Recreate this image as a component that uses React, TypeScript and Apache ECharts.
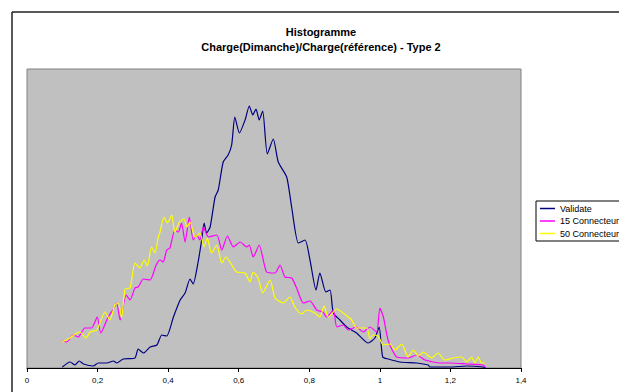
import React, { useEffect, useRef } from 'react';
import * as echarts from 'echarts';

const titleLines = ['Histogramme', 'Charge(Dimanche)/Charge(référence) - Type 2'];
const seriesNames = ['Validate', '15 Connecteur', '50 Connecteur'];
const seriesColors = ['#000080', '#FF00FF', '#FFFF00'];
const xTicks = { min: 0, max: 1.4, step: 0.2 };

const validate: [number, number][] = [
  [0.100, 1], [0.122, 6], [0.136, 3], [0.148, 7], [0.160, 4], [0.188, 2], [0.202, 5], [0.226, 5], [0.245, 7], [0.254, 5],
  [0.273, 9], [0.306, 10], [0.315, 19], [0.330, 15], [0.349, 21], [0.368, 23], [0.382, 33], [0.396, 32], [0.415, 51], [0.434, 68],
  [0.448, 75], [0.462, 89], [0.471, 84], [0.485, 106], [0.495, 128], [0.502, 145], [0.509, 135], [0.519, 141], [0.533, 171], [0.542, 178],
  [0.556, 206], [0.570, 213], [0.580, 223], [0.589, 251], [0.602, 235], [0.618, 248], [0.630, 262], [0.640, 253], [0.649, 259], [0.658, 248],
  [0.668, 257], [0.681, 214], [0.698, 229], [0.712, 206], [0.736, 191], [0.750, 161], [0.769, 125], [0.788, 128], [0.802, 108], [0.819, 78],
  [0.830, 95], [0.847, 76], [0.859, 78], [0.868, 55], [0.887, 48], [0.906, 41], [0.934, 35], [0.967, 25], [0.986, 30], [0.998, 41],
  [1.008, 11], [1.024, 9], [1.057, 6], [1.104, 5], [1.137, 3], [1.142, 1], [1.199, 1], [1.246, 2], [1.293, 1], [1.298, 0],
];

const connect15: [number, number][] = [
  [0.100, 27], [0.112, 26], [0.131, 33], [0.145, 31], [0.164, 40], [0.183, 40], [0.199, 51], [0.209, 35], [0.230, 51], [0.243, 58],
  [0.254, 65], [0.264, 48], [0.281, 73], [0.292, 68], [0.306, 80], [0.315, 81], [0.330, 89], [0.349, 88], [0.366, 103], [0.377, 108],
  [0.386, 106], [0.396, 118], [0.405, 120], [0.419, 138], [0.429, 136], [0.438, 145], [0.448, 126], [0.460, 151], [0.471, 128], [0.481, 133],
  [0.490, 128], [0.500, 141], [0.514, 131], [0.538, 133], [0.552, 118], [0.568, 132], [0.585, 121], [0.604, 126], [0.623, 121], [0.630, 123],
  [0.641, 111], [0.658, 123], [0.679, 96], [0.703, 95], [0.717, 103], [0.731, 91], [0.750, 90], [0.764, 80], [0.783, 65], [0.802, 67],
  [0.821, 58], [0.838, 56], [0.849, 51], [0.868, 58], [0.878, 41], [0.896, 43], [0.910, 38], [0.934, 41], [0.953, 36], [0.972, 41],
  [0.991, 36], [1.000, 60], [1.010, 51], [1.024, 27], [1.048, 11], [1.080, 10], [1.104, 13], [1.128, 8], [1.151, 6], [1.170, 5],
  [1.199, 5], [1.246, 4], [1.293, 3], [1.301, 0],
];

const connect50: [number, number][] = [
  [0.100, 26], [0.122, 30], [0.141, 35], [0.150, 36], [0.167, 30], [0.179, 36], [0.198, 38], [0.221, 56], [0.235, 48], [0.249, 63],
  [0.259, 65], [0.268, 50], [0.278, 79], [0.292, 80], [0.306, 105], [0.320, 100], [0.332, 108], [0.341, 102], [0.353, 121], [0.363, 115],
  [0.372, 131], [0.377, 136], [0.388, 151], [0.398, 145], [0.410, 153], [0.419, 136], [0.432, 146], [0.445, 149], [0.453, 141], [0.462, 146],
  [0.476, 131], [0.490, 135], [0.502, 121], [0.511, 130], [0.523, 115], [0.538, 123], [0.552, 105], [0.564, 111], [0.575, 106], [0.594, 96],
  [0.618, 95], [0.632, 86], [0.641, 96], [0.655, 90], [0.668, 75], [0.689, 88], [0.703, 70], [0.726, 65], [0.745, 71], [0.759, 61],
  [0.778, 54], [0.793, 58], [0.816, 55], [0.830, 51], [0.842, 62], [0.854, 51], [0.878, 59], [0.896, 55], [0.920, 48], [0.934, 40],
  [0.963, 40], [0.972, 29], [0.981, 33], [0.995, 32], [1.010, 23], [1.029, 24], [1.043, 18], [1.062, 24], [1.080, 11], [1.095, 18],
  [1.109, 12], [1.123, 16], [1.147, 10], [1.165, 15], [1.184, 8], [1.208, 10], [1.232, 11], [1.246, 6], [1.260, 11], [1.269, 5],
  [1.279, 11], [1.288, 5], [1.298, 5],
];

const seriesData = [validate, connect15, connect50];

export default function App() {
  const ref = useRef<HTMLDivElement>(null);
  useEffect(() => {
    if (!ref.current) return;
    const chart = echarts.init(ref.current, null, { renderer: 'svg' });
    const font = 'Liberation Sans, Arial, sans-serif';
    chart.setOption({
      animation: false,
      backgroundColor: '#ffffff',
      grid: {
        left: 27, top: 69, width: 494, height: 299,
        show: true, backgroundColor: '#C0C0C0', borderColor: '#808080', borderWidth: 1,
      },
      xAxis: {
        type: 'value', min: xTicks.min, max: xTicks.max, interval: xTicks.step,
        axisLine: { onZero: false, lineStyle: { color: '#000', width: 1 } },
        axisTick: { show: true, length: 4, lineStyle: { color: '#000', width: 1 } },
        splitLine: { show: false },
        axisLabel: {
          color: '#000', fontSize: 8, fontFamily: font, margin: 8,
          formatter: (v: number) => String(Math.round(v * 10) / 10).replace('.', ','),
        },
      },
      yAxis: { type: 'value', min: 0, max: 299, show: false, splitLine: { show: false } },
      legend: {
        orient: 'vertical', left: 536, top: 201,
        padding: [2, 4, 2, 4], itemGap: 1.5, itemWidth: 15, itemHeight: 1.5,
        icon: 'rect', backgroundColor: '#fff', borderColor: '#000', borderWidth: 1, borderRadius: 0,
        textStyle: { fontSize: 9, fontFamily: font, color: '#000', lineHeight: 11 },
        data: seriesNames,
      },
      series: seriesNames.map((name, i) => ({
        name, type: 'line', data: seriesData[i], showSymbol: false, symbol: 'none',
        smooth: 0.2, color: seriesColors[i],
        lineStyle: { color: seriesColors[i], width: 1.2 },
      })),
      graphic: [
        { type: 'line', shape: { x1: 12, y1: 12, x2: 619, y2: 12 }, style: { stroke: '#222', lineWidth: 1.5 } },
        { type: 'line', shape: { x1: 12, y1: 12, x2: 12, y2: 392 }, style: { stroke: '#222', lineWidth: 1.5 } },
        {
          type: 'text', x: 321, y: 32,
          style: { text: titleLines[0], fill: '#000', font: `bold 11px ${font}`, textAlign: 'center', textVerticalAlign: 'middle' },
        },
        {
          type: 'text', x: 321, y: 47,
          style: { text: titleLines[1], fill: '#000', font: `bold 11px ${font}`, textAlign: 'center', textVerticalAlign: 'middle' },
        },
      ],
    });
    return () => chart.dispose();
  }, []);
  return <div ref={ref} style={{ position: 'fixed', left: 0, top: 0, width: 619, height: 392, background: '#fff' }} />;
}
